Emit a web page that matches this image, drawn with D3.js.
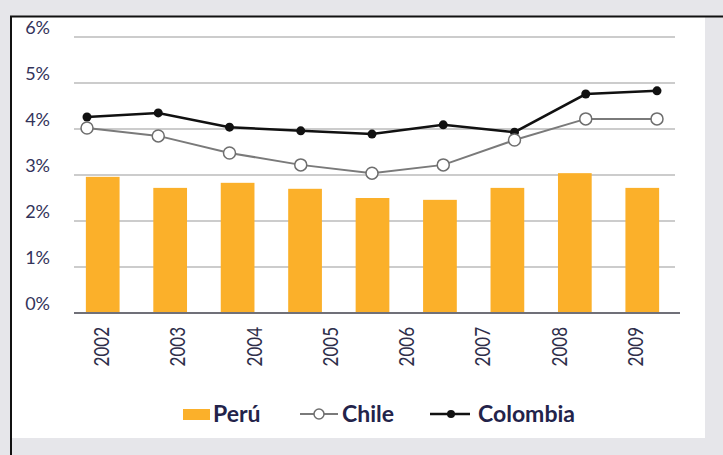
<!DOCTYPE html>
<meta charset="utf-8">
<style>
body { margin: 0; background: #e6e6ea; }
svg { display: block; }
.ylab { font-family: Lato, sans-serif; font-size: 18px; fill: #33335a; }
.xlab { font-family: Lato, sans-serif; font-size: 17px; fill: #2e2e4a; }
.leg { font-family: Lato, sans-serif; font-size: 23px; font-weight: bold; fill: #23234a; }
</style>
<body>
<script src="https://cdn.jsdelivr.net/npm/d3@7"></script>
<script>

// data (9 plotted slots, 8 year labels as in the original)
var slots = [1, 2, 3, 4, 5, 6, 7, 8, 9];
var peru     = [2.96, 2.72, 2.83, 2.70, 2.50, 2.46, 2.72, 3.04, 2.72];
var chile    = [4.02, 3.85, 3.48, 3.22, 3.04, 3.22, 3.76, 4.22, 4.22];
var colombia = [4.26, 4.35, 4.04, 3.96, 3.89, 4.09, 3.93, 4.76, 4.83];
var yearLabels = ["2002", "2003", "2004", "2005", "2006", "2007", "2008", "2009"];
var yTicks = [0, 1, 2, 3, 4, 5, 6];

var W = 723, H = 455;

var svg = d3.select("body").append("svg")
    .attr("width", W)
    .attr("height", H);

// panel
svg.append("rect").attr("x", 10).attr("y", 16).attr("width", 695).attr("height", 422).attr("fill", "#fff");
svg.append("line").attr("x1", 10).attr("x2", W).attr("y1", 16.5).attr("y2", 16.5)
    .attr("stroke", "#111").attr("stroke-width", 2);
svg.append("line").attr("x1", 11).attr("x2", 11).attr("y1", 16).attr("y2", H)
    .attr("stroke", "#111").attr("stroke-width", 2);

// scales
var y = d3.scaleLinear().domain([0, 6]).range([313, 37]);
var xBar = d3.scaleBand().domain(slots).range([69, 676])
    .paddingInner(0.5).paddingOuter(0.25);
var xLine = d3.scalePoint().domain(slots).range([87, 657]);
var xLab = d3.scalePoint().domain(yearLabels).range([103, 637]);

// gridlines
svg.selectAll(".grid")
    .data(yTicks.filter(function(d) { return d > 0; }))
  .enter().append("line")
    .attr("x1", 74).attr("x2", 675)
    .attr("y1", function(d) { return y(d); })
    .attr("y2", function(d) { return y(d); })
    .attr("stroke", "#9a9a9a").attr("stroke-width", 1.2);

// y labels
svg.selectAll(".ylab")
    .data(yTicks)
  .enter().append("text")
    .attr("class", "ylab")
    .attr("x", 50)
    .attr("y", function(d) { return y(d) - 3; })
    .attr("text-anchor", "end")
    .text(function(d) { return d + "%"; });

// bars
svg.selectAll(".bar")
    .data(peru)
  .enter().append("rect")
    .attr("x", function(d, i) { return xBar(slots[i]); })
    .attr("width", xBar.bandwidth())
    .attr("y", function(d) { return y(d); })
    .attr("height", function(d) { return y(0) - y(d); })
    .attr("fill", "#fbb02a");

// baseline
svg.append("line").attr("x1", 74).attr("x2", 680).attr("y1", y(0)).attr("y2", y(0))
    .attr("stroke", "#707078").attr("stroke-width", 2);

// x labels
svg.selectAll(".xlab")
    .data(yearLabels)
  .enter().append("text")
    .attr("class", "xlab")
    .attr("transform", function(d) {
      return "translate(" + (xLab(d) + 6) + ",327) scale(1.25,1) rotate(-90)";
    })
    .attr("text-anchor", "end")
    .text(function(d) { return d; });

var line = d3.line()
    .x(function(d, i) { return xLine(slots[i]); })
    .y(function(d) { return y(d); });

// Colombia
svg.append("path").datum(colombia).attr("d", line)
    .attr("fill", "none").attr("stroke", "#111").attr("stroke-width", 2.5);
svg.selectAll(".dotc")
    .data(colombia)
  .enter().append("circle")
    .attr("cx", function(d, i) { return xLine(slots[i]); })
    .attr("cy", function(d) { return y(d); })
    .attr("r", 4.5).attr("fill", "#111");

// Chile
svg.append("path").datum(chile).attr("d", line)
    .attr("fill", "none").attr("stroke", "#7a7a7a").attr("stroke-width", 2);
svg.selectAll(".dotch")
    .data(chile)
  .enter().append("circle")
    .attr("cx", function(d, i) { return xLine(slots[i]); })
    .attr("cy", function(d) { return y(d); })
    .attr("r", 6).attr("fill", "#fff").attr("stroke", "#6e6e6e").attr("stroke-width", 1.5);

// legend
var ly = 414;
svg.append("rect").attr("x", 183).attr("y", ly - 5).attr("width", 27).attr("height", 11).attr("fill", "#fbb02a");
svg.append("text").attr("class", "leg").attr("x", 213).attr("y", ly + 8).text("Perú");

svg.append("line").attr("x1", 300).attr("x2", 338).attr("y1", ly).attr("y2", ly)
    .attr("stroke", "#7a7a7a").attr("stroke-width", 2);
svg.append("circle").attr("cx", 319).attr("cy", ly).attr("r", 5)
    .attr("fill", "#fff").attr("stroke", "#6e6e6e").attr("stroke-width", 1.5);
svg.append("text").attr("class", "leg").attr("x", 342).attr("y", ly + 8).text("Chile");

svg.append("line").attr("x1", 430).attr("x2", 470).attr("y1", ly).attr("y2", ly)
    .attr("stroke", "#111").attr("stroke-width", 2.5);
svg.append("circle").attr("cx", 451).attr("cy", ly).attr("r", 4).attr("fill", "#111");
svg.append("text").attr("class", "leg").attr("x", 478).attr("y", ly + 8).text("Colombia");

</script>
</body>
